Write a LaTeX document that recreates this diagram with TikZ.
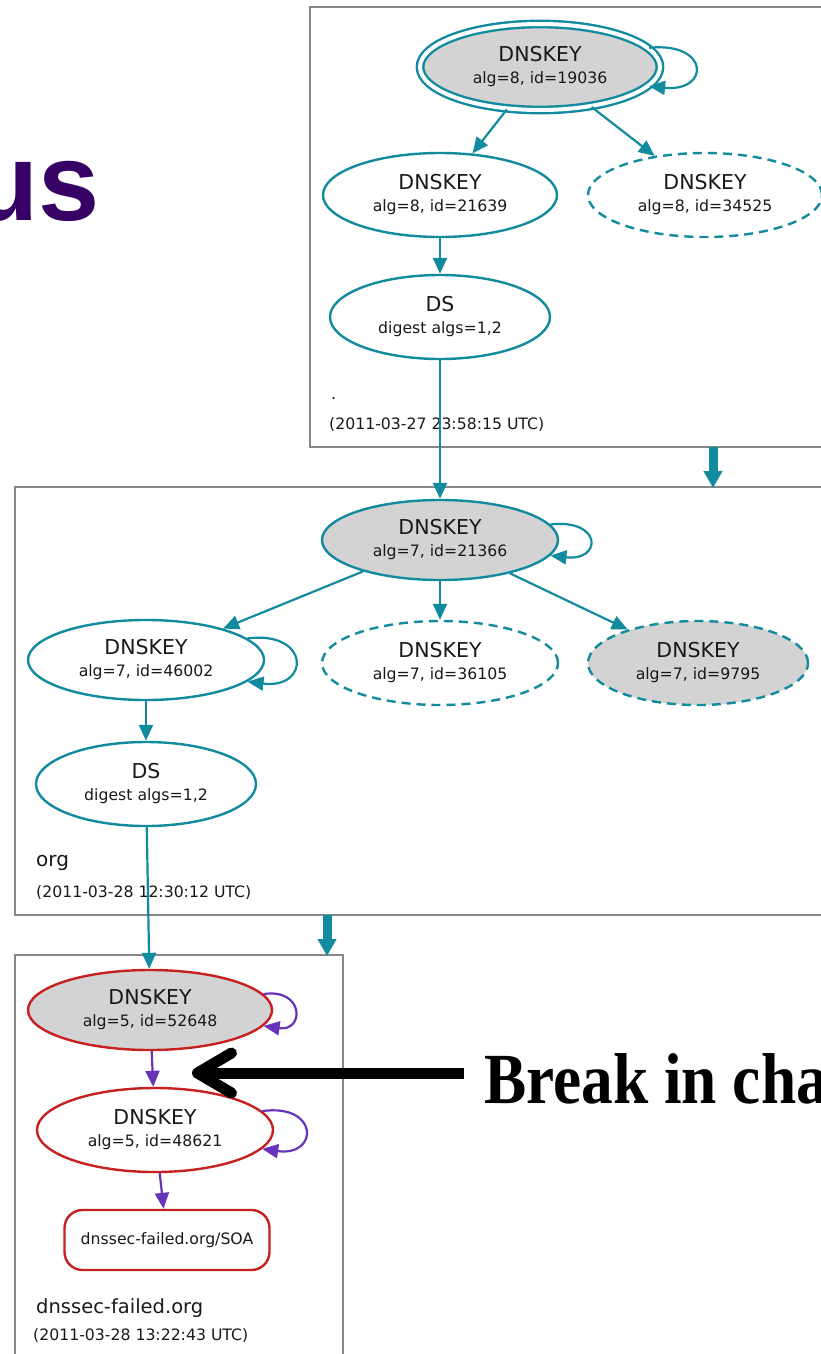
\documentclass[tikz,border=0pt]{standalone}
\usepackage{fontspec}
\setmainfont{DejaVu Sans}
\newfontfamily\slidesans{Liberation Sans}
\newfontfamily\slideserif[FakeStretch=0.88]{Liberation Serif}
\usepackage{tikz}
\usetikzlibrary{shapes.geometric}
\usetikzlibrary{arrows.meta}

\definecolor{dnsteal}{RGB}{18,139,158}
\definecolor{dnsred}{RGB}{198,32,32}
\definecolor{dnspurple}{RGB}{102,51,187}
\definecolor{keygray}{RGB}{211,211,211}
\definecolor{zonegray}{RGB}{135,135,135}
\definecolor{titlepurple}{RGB}{55,0,100}

\newcommand{\bigline}{\fontsize{20.5}{22}\selectfont}
\newcommand{\smallline}{\fontsize{15.7}{22}\selectfont}
\newcommand{\keylabel}[2]{{\bigline #1}\\#2}

\begin{document}
\begin{tikzpicture}[x=1pt,y=-1pt]
    \tikzstyle{zonebox}   = [draw=zonegray, line width=1.5pt]
    \tikzstyle{dnskey}    = [ellipse, draw=dnsteal, line width=2.4pt, fill=white, inner sep=0pt,
                             align=center, font=\smallline, text=black!90]
    \tikzstyle{trusted}   = [fill=keygray]
    \tikzstyle{spare}     = [dash pattern=on 9pt off 6pt]
    \tikzstyle{failed}    = [draw=dnsred]
    \tikzstyle{rrset}     = [rectangle, draw=dnsred, line width=2.4pt, rounded corners=18pt, fill=white,
                             minimum width=205pt, minimum height=60pt, font=\smallline, text=black!90]
    \tikzstyle{sig}       = [draw=dnsteal, line width=2.2pt, -{Triangle[length=16pt,width=14pt]}]
    \tikzstyle{badsig}    = [sig, draw=dnspurple]
    \tikzstyle{delegate}  = [draw=dnsteal, line width=9pt, -{Triangle[length=17pt,width=18pt]}]
    \tikzstyle{zonelabel} = [anchor=base west, inner sep=0pt, text=black!90]

    \useasboundingbox (0,0) rectangle (820,1354);

    % slide text behind the graph
    \node[anchor=base east, inner sep=0pt, text=titlepurple,
          font=\slidesans\bfseries\fontsize{110}{110}\selectfont] (title) at (100,220) {us};

    % zones
    \draw[zonebox] (310,7) rectangle (840,447);
    \draw[zonebox] (15,487) rectangle (840,915);
    \draw[zonebox] (15,955) rectangle (343,1370);

    % root zone
    \node[dnskey, trusted, double=white, double distance=4pt, minimum width=240pt, minimum height=86pt]
        (root) at (540,67) {\keylabel{DNSKEY}{alg=8, id=19036}};
    \node[dnskey, minimum width=234pt, minimum height=84pt] (k21639) at (440,195) {\keylabel{DNSKEY}{alg=8, id=21639}};
    \node[dnskey, spare, minimum width=234pt, minimum height=84pt] (k34525) at (705,195) {\keylabel{DNSKEY}{alg=8, id=34525}};
    \node[dnskey, minimum width=220pt, minimum height=84pt] (ds1) at (440,317) {\keylabel{DS}{digest algs=1,2}};
    \node[zonelabel, font=\smallline] (rootname) at (331,399) {.};
    \node[zonelabel, font=\smallline] (roottime) at (329,429) {(2011-03-27 23:58:15 UTC)};

    % org zone
    \node[dnskey, trusted, minimum width=236pt, minimum height=80pt] (orgkey) at (440,540) {\keylabel{DNSKEY}{alg=7, id=21366}};
    \node[dnskey, minimum width=236pt, minimum height=80pt] (k46002) at (146,660) {\keylabel{DNSKEY}{alg=7, id=46002}};
    \node[dnskey, spare, minimum width=236pt, minimum height=84pt] (k36105) at (440,663) {\keylabel{DNSKEY}{alg=7, id=36105}};
    \node[dnskey, spare, trusted, minimum width=220pt, minimum height=84pt] (k9795) at (698,663) {\keylabel{DNSKEY}{alg=7, id=9795}};
    \node[dnskey, minimum width=220pt, minimum height=84pt] (ds2) at (146,784) {\keylabel{DS}{digest algs=1,2}};
    \node[zonelabel, font=\fontsize{20}{22}\selectfont] (orgname) at (36,866) {org};
    \node[zonelabel, font=\smallline] (orgtime) at (36,897) {(2011-03-28 12:30:12 UTC)};

    % dnssec-failed.org zone
    \node[dnskey, trusted, failed, minimum width=244pt, minimum height=80pt] (failkey) at (150,1010) {\keylabel{DNSKEY}{alg=5, id=52648}};
    \node[dnskey, failed, minimum width=236pt, minimum height=84pt] (k48621) at (155,1130) {\keylabel{DNSKEY}{alg=5, id=48621}};
    \node[rrset] (soa) at (167,1240) {dnssec-failed.org/SOA};
    \node[zonelabel, font=\fontsize{19.5}{22}\selectfont] (failname) at (36,1313) {dnssec-failed.org};
    \node[zonelabel, font=\smallline] (failtime) at (33,1340) {(2011-03-28 13:22:43 UTC)};

    % signatures and digests
    \draw[sig] (root) -- (k21639);
    \draw[sig] (root) -- (k34525);
    \draw[sig] (root.10) .. controls +(61,-6) and +(61,6) .. (root.-10);
    \draw[sig] (k21639) -- (ds1);
    \draw[sig] (ds1) -- (orgkey);
    \draw[sig] (orgkey) -- (k46002);
    \draw[sig] (orgkey) -- (k36105);
    \draw[sig] (orgkey) -- (k9795);
    \draw[sig] (orgkey.8) .. controls +(52,-6) and +(52,6) .. (orgkey.-8);
    \draw[sig] (k46002.12) .. controls +(63,-8) and +(63,8) .. (k46002.-12);
    \draw[sig] (k46002) -- (ds2);
    \draw[sig] (ds2) -- (failkey);
    \draw[badsig] (failkey.8) .. controls +(41,-6) and +(41,6) .. (failkey.-8);
    \draw[badsig] (failkey) -- (k48621);
    \draw[badsig] (k48621.10) .. controls +(57,-8) and +(57,8) .. (k48621.-10);
    \draw[badsig] (k48621) -- (soa);

    % delegations between zones
    \coordinate (rootcut) at (713,447);
    \coordinate (orgtop) at (713,488);
    \coordinate (orgcut) at (327,915);
    \coordinate (failtop) at (327,956);
    \draw[delegate] (rootcut) -- (orgtop);
    \draw[delegate] (orgcut) -- (failtop);

    % the break
    \node[anchor=base west, inner sep=0pt, font=\slideserif\bfseries\fontsize{72}{72}\selectfont]
        (brk) at (484,1103) {Break in cha};
    \coordinate (brktip) at (192,1073);
    \draw[line width=11pt, -{Straight Barb[length=34pt,width=40pt,round]}]
        ([xshift=-20pt]brk.west |- brktip) -- (brktip);
\end{tikzpicture}
\end{document}
